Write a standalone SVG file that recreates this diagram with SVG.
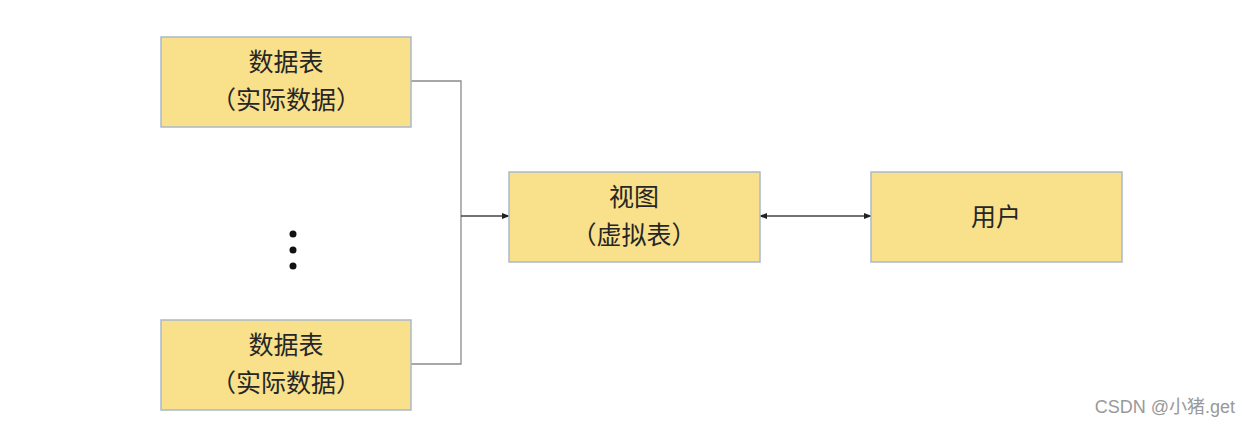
<svg xmlns="http://www.w3.org/2000/svg" width="1251" height="426" viewBox="0 0 1251 426">
<style>
.box{fill:#F9E08A;stroke:#A9B9CB;stroke-width:1.5}
.t{font-family:"Liberation Sans","Noto Sans CJK SC",sans-serif;font-size:25px;fill:#262626;text-anchor:middle}
.c{fill:none;stroke:#8a8a8a;stroke-width:1.3}
.a{fill:none;stroke:#444;stroke-width:1.3}
</style>
<defs>
<marker id="ah" viewBox="0 0 10 10" refX="9" refY="5" markerWidth="8" markerHeight="8" orient="auto-start-reverse" markerUnits="userSpaceOnUse">
<path d="M0,1 L10,5 L0,9 z" fill="#222"/>
</marker>
</defs>
<rect width="1251" height="426" fill="#fff"/>
<g id="connectors">
<path class="c" d="M411,81 H461 V364 H411"/>
<path class="a" d="M461,216 H509" marker-end="url(#ah)"/>
<path class="a" d="M760,216 H871" marker-start="url(#ah)" marker-end="url(#ah)"/>
</g>
<g id="table1">
<rect class="box" x="161" y="37" width="250" height="90"/>
<text class="t" x="286" y="71">数据表</text>
<text class="t" x="286" y="109">（实际数据）</text>
</g>
<g id="ellipsis">
<circle cx="293" cy="234" r="3.5" fill="#111"/>
<circle cx="293" cy="250" r="3.5" fill="#111"/>
<circle cx="293" cy="266" r="3.5" fill="#111"/>
</g>
<g id="table2">
<rect class="box" x="161" y="320" width="250" height="90"/>
<text class="t" x="286" y="354">数据表</text>
<text class="t" x="286" y="392">（实际数据）</text>
</g>
<g id="view">
<rect class="box" x="509" y="172" width="251" height="90"/>
<text class="t" x="634" y="206">视图</text>
<text class="t" x="634" y="244">（虚拟表）</text>
</g>
<g id="user">
<rect class="box" x="871" y="172" width="251" height="90"/>
<text class="t" x="996" y="226">用户</text>
</g>
<text x="1235" y="413" font-family="Liberation Sans,'Noto Sans CJK SC',sans-serif" font-size="18" fill="#999" text-anchor="end">CSDN @小猪.get</text>
</svg>
